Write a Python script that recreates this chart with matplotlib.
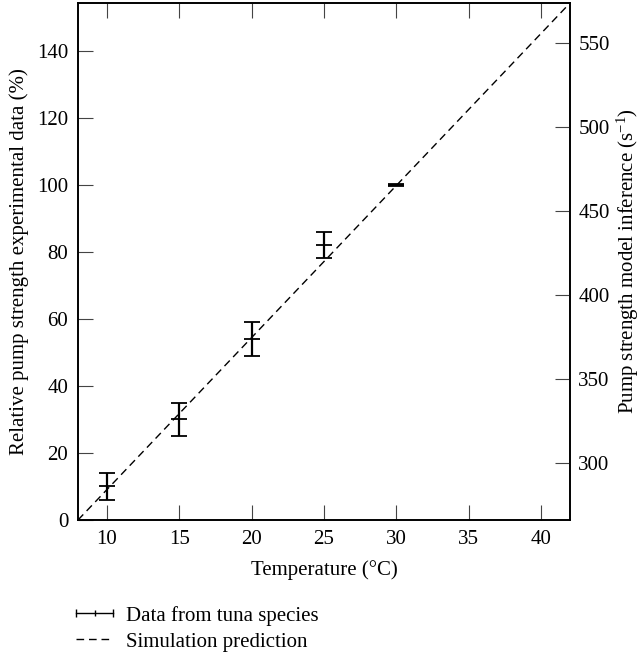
#!/usr/bin/env python3
"""Tuna pump strength vs temperature: measured relative strength (left axis)
against the simulated pump strength (right axis)."""
import matplotlib; matplotlib.use('Agg')
import matplotlib.pyplot as plt
from matplotlib.lines import Line2D
from matplotlib.legend_handler import HandlerLine2D, HandlerTuple

plt.rcParams['font.family'] = ['Liberation Serif', 'DejaVu Serif']
plt.rcParams['mathtext.fontset'] = 'custom'
plt.rcParams['mathtext.rm'] = 'Liberation Serif'
plt.rcParams['mathtext.it'] = 'Liberation Serif:italic'
plt.rcParams['font.size'] = 15

# measured data (tuna species)
temp = [10, 15, 20, 25, 30]
rel_strength = [10, 30, 54, 82, 100]
rel_err = [4, 5, 5, 4, 0.25]

# simulation prediction (straight line across the plot)
sim_temp = [8, 42]
sim_rel = [0, 154.2]

XLIM = (8, 42)
YLIM = (0, 154.2)
YLIM_RIGHT = (265.9, 573.8)
DASH = (0, (5.5, 3.5))

fig = plt.figure(figsize=(6.43, 6.54), dpi=100)
ax = fig.add_axes([0.1213, 0.2049, 0.7652, 0.7905])

ax.plot(sim_temp, sim_rel, color='k', lw=1.0, ls=DASH)
ax.errorbar(temp, rel_strength, yerr=rel_err, fmt='none', ecolor='k',
            elinewidth=1.6, capsize=5.5, capthick=1.3)
ax.plot(temp, rel_strength, ls='none', marker='_', ms=11, mew=1.3, color='k')

ax.set_xlim(*XLIM)
ax.set_ylim(*YLIM)
ax.set_xticks(range(10, 41, 5))
ax.set_yticks(range(0, 141, 20))
ax.set_xlabel('Temperature (°C)', labelpad=8)
ax.set_ylabel('Relative pump strength experimental data (%)', labelpad=6)
ax.tick_params(direction='in', length=10.5, width=0.8, pad=7,
               top=True, right=False, color='#444444')

ax2 = ax.twinx()
ax2.set_ylim(*YLIM_RIGHT)
ax2.set_yticks(range(300, 551, 50))
ax2.set_ylabel('Pump strength model inference (s$^{-1}$)', labelpad=4)
ax2.tick_params(direction='in', length=10.5, width=0.8, pad=6, color='#444444')

for a in (ax, ax2):
    for s in a.spines.values():
        s.set_linewidth(1.2)

# legend: horizontal error bar symbol and a dashed line
caps = Line2D([], [], color='k', lw=1.0, marker='|', ms=6, mew=1.0)
mid = Line2D([], [], color='k', ls='none', marker='|', ms=5, mew=1.0)
dash = Line2D([], [], color='k', lw=1.0, ls=DASH)
fig.legend([(caps, mid), dash], ['Data from tuna species', 'Simulation prediction'],
           handler_map={caps: HandlerLine2D(numpoints=2, marker_pad=0),
                        mid: HandlerLine2D(numpoints=1),
                        tuple: HandlerTuple(ndivide=1)},
           loc='upper left', bbox_to_anchor=(0.118, 0.074), frameon=False,
           handlelength=1.8, handletextpad=0.6, labelspacing=0.32,
           borderaxespad=0, borderpad=0, fontsize=15)

fig.savefig('out.png', dpi=100)
